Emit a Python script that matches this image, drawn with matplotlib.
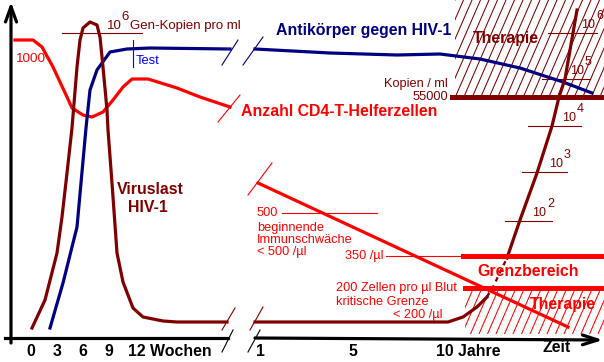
import matplotlib
matplotlib.use("Agg")
import matplotlib.pyplot as plt
from matplotlib.patches import Rectangle
import numpy as np

plt.rcParams['font.family'] = ['Liberation Sans', 'DejaVu Sans']

DARKRED = '#800000'
RED = '#FF0000'
NAVY = '#000080'
BLUE = '#0000FF'

# ---- data (schematic diagram units, y grows downward) ----
cd4_early_x = [15, 33, 42, 53, 67, 72, 83, 92, 103, 113, 123, 132, 148, 177, 200, 230]
cd4_early_y = [40, 40, 47, 67, 97, 108, 115, 117, 112, 100, 87, 79, 79, 88, 97, 107]

virus_early_x = [32, 45, 57, 62, 67, 72, 77, 80, 83, 90, 97, 100, 103, 107, 108, 112, 117, 123, 133, 143, 163, 177, 227]
virus_early_y = [328, 300, 253, 217, 173, 128, 67, 40, 28, 22, 25, 37, 67, 110, 130, 183, 253, 282, 308, 317, 321, 322, 322]

antibody_early_x = [50, 63, 77, 86, 90, 97, 110, 127, 150, 230]
antibody_early_y = [328, 283, 227, 128, 90, 70, 52, 49, 48, 49]

antibody_late_x = [255, 330, 397, 440, 480, 520, 563, 592]
antibody_late_y = [49, 53, 55, 54, 59, 68, 82, 93]

cd4_late_x = [258, 568]
cd4_late_y = [183, 327]

virus_late_low_x = [255, 448, 463, 477, 487]
virus_late_low_y = [322, 322, 317, 307, 297]
virus_late_dash_x = [487, 493, 507]
virus_late_dash_y = [297, 287, 258]
virus_late_high_x = [507, 520, 537, 552, 559, 565, 573, 577]
virus_late_high_y = [258, 220, 173, 126, 97, 79, 33, 10]

log_exponents = ['6', '5', '4', '3', '2']
log_tick_y = [33, 79, 126, 172, 221]
log_tick_x0 = [548, 542, 528, 522, 505]
log_tick_x1 = [597, 590, 581, 567, 552]
log_label_x = [581, 570, 562, 549, 532]

week_ticks = ['0', '3', '6', '9', '12 Wochen']
week_pos = [31, 57, 83, 109, 170]
year_ticks = ['1', '5', '10 Jahre']
year_pos = [260, 353, 468]

cd4_levels = [256, 288]        # 350 /µl and 200 /µl
viral_threshold = 97           # 55000 copies / ml

fig = plt.figure(figsize=(6.04, 3.62), dpi=100)
ax = fig.add_axes([0, 0, 1, 1])
ax.set_xlim(0, 604)
ax.set_ylim(362, 0)
ax.axis('off')


def hatch(x0, x1, y0, y1, color, step=8.5, slope=2.3):
    rect = Rectangle((x0, y0), x1 - x0, y1 - y0, fill=False, lw=0)
    ax.add_patch(rect)
    h = y1 - y0
    xs = np.arange(x0 - h / slope - step, x1 + step, step)
    for xs0 in xs:
        ln, = ax.plot([xs0, xs0 + h / slope], [y1, y0], color=color, lw=0.75, zorder=1)
        ln.set_clip_path(rect)


# hatched therapy areas
hatch(455, 604, 0, viral_threshold, DARKRED)
hatch(465, 604, cd4_levels[1], 334, RED)

LW = 2.3
# curves
ax.plot(cd4_early_x, cd4_early_y, color=RED, lw=LW, zorder=3)
ax.plot(antibody_early_x, antibody_early_y, color=NAVY, lw=LW, zorder=3)
ax.plot(virus_early_x, virus_early_y, color=DARKRED, lw=LW, zorder=4)
ax.plot(antibody_late_x, antibody_late_y, color=NAVY, lw=LW, zorder=3)
ax.plot(cd4_late_x, cd4_late_y, color=RED, lw=LW, zorder=3)
ax.plot(virus_late_low_x, virus_late_low_y, color=DARKRED, lw=LW, zorder=3)
ax.plot(virus_late_dash_x, virus_late_dash_y, color=DARKRED, lw=LW * 0.7, ls=(0, (2, 2)), zorder=3)
ax.plot(virus_late_high_x, virus_late_high_y, color=DARKRED, lw=LW, zorder=3)

# threshold lines
ax.plot([452, 604], [viral_threshold] * 2, color=DARKRED, lw=3.6, zorder=5)
ax.plot([386, 463], [cd4_levels[0]] * 2, color=RED, lw=0.8, zorder=2)
ax.plot([463, 604], [cd4_levels[0]] * 2, color=RED, lw=3.6, zorder=5)
ax.plot([465, 604], [cd4_levels[1]] * 2, color=RED, lw=3.6, zorder=5)
ax.plot([282, 377], [213, 213], color=RED, lw=0.8, zorder=2)

# log ticks for viral load
for e, y, xa, xb, lx in zip(log_exponents, log_tick_y, log_tick_x0, log_tick_x1, log_label_x):
    ax.plot([xa, xb], [y, y], color=DARKRED, lw=0.8, zorder=2)
    ax.text(lx, y - 8, '10', color=DARKRED, fontsize=9, ha='left', va='center', zorder=6)
    ax.text(lx + 15, y - 17, e, color=DARKRED, fontsize=9, ha='left', va='center', zorder=6)

# 10^6 Gen-Kopien
ax.plot([62, 142], [33, 33], color=DARKRED, lw=0.8, zorder=2)
ax.text(107, 26, '10', color=DARKRED, fontsize=9.5, ha='left', va='center')
ax.text(121, 17, '6', color=DARKRED, fontsize=9.5, ha='left', va='center')
ax.text(130, 26, 'Gen-Kopien pro ml', color=DARKRED, fontsize=9.5, ha='left', va='center')

# Test marker
ax.plot([133, 133], [40, 67], color=BLUE, lw=0.8)
ax.text(136, 61, 'Test', color=BLUE, fontsize=9.3, ha='left', va='center')

ax.text(15, 59, '1000', color=RED, fontsize=9.7, ha='left', va='center')

# main labels
B = dict(fontsize=11.4, fontweight='bold', va='center')
ax.text(276, 31, 'Antikörper gegen HIV-1', color=NAVY, ha='left', **B)
ax.text(241, 111, 'Anzahl CD4-T-Helferzellen', color=RED, ha='left', **B)
ax.text(150, 189, 'Viruslast', color=DARKRED, ha='center', **B)
ax.text(148, 207, 'HIV-1', color=DARKRED, ha='center', **B)
ax.text(473, 39, 'Therapie', color=DARKRED, ha='left', zorder=6, **B)
ax.text(477, 271, 'Grenzbereich', color=RED, ha='left', zorder=6, **B)
ax.text(530, 304, 'Therapie', color=RED, ha='left', zorder=6, **B)

S = dict(fontsize=9.2, va='center', color=RED)
ax.text(448, 84, 'Kopien / ml', ha='right', fontsize=9.2, va='center', color=DARKRED)
ax.text(448, 97, '55000', ha='right', fontsize=9.2, va='center', color=DARKRED)
ax.text(257, 213, '500', ha='left', **S)
ax.text(257, 228, 'beginnende', ha='left', **S)
ax.text(257, 240, 'Immunschwäche', ha='left', **S)
ax.text(257, 252, '< 500 /µl', ha='left', **S)
ax.text(345, 256, '350 /µl', ha='left', **S)
ax.text(336, 288, '200 Zellen pro µl Blut', ha='left', **S)
ax.text(336, 302, 'kritische Grenze', ha='left', **S)
ax.text(393, 315, '< 200 /µl', ha='left', **S)

# axes
AX_Y = 338
ax.plot([5, 228], [AX_Y, AX_Y], color='black', lw=LW, zorder=3)
ax.annotate('', xy=(603, 340), xytext=(255, AX_Y),
            arrowprops=dict(arrowstyle='->,head_length=1.1,head_width=0.35', lw=LW, color='black',
                            shrinkA=0, shrinkB=0))
ax.annotate('', xy=(11, 2), xytext=(11, 343),
            arrowprops=dict(arrowstyle='->,head_length=1.1,head_width=0.4', lw=LW, color='black',
                            shrinkA=0, shrinkB=0))

# break marks
breaks = [((222, 65), (238, 40), NAVY), ((243, 65), (263, 37), NAVY),
          ((218, 122), (240, 95), RED), ((248, 195), (272, 163), RED),
          ((222, 330), (235, 308), DARKRED), ((250, 330), (263, 307), DARKRED),
          ((222, 352), (233, 330), 'black'), ((248, 352), (260, 330), 'black')]
for (xa, ya), (xb, yb), c in breaks:
    ax.plot([xa, xb], [ya, yb], color=c, lw=0.8)

T = dict(fontsize=11.4, fontweight='bold', va='center', ha='center', color='black')
for lab, p in zip(week_ticks, week_pos):
    ax.text(p, 351, lab, **T)
for lab, p in zip(year_ticks, year_pos):
    ax.text(p, 352, lab, **T)
ax.text(557, 348, 'Zeit', **T)

fig.savefig('out.png', dpi=100)
